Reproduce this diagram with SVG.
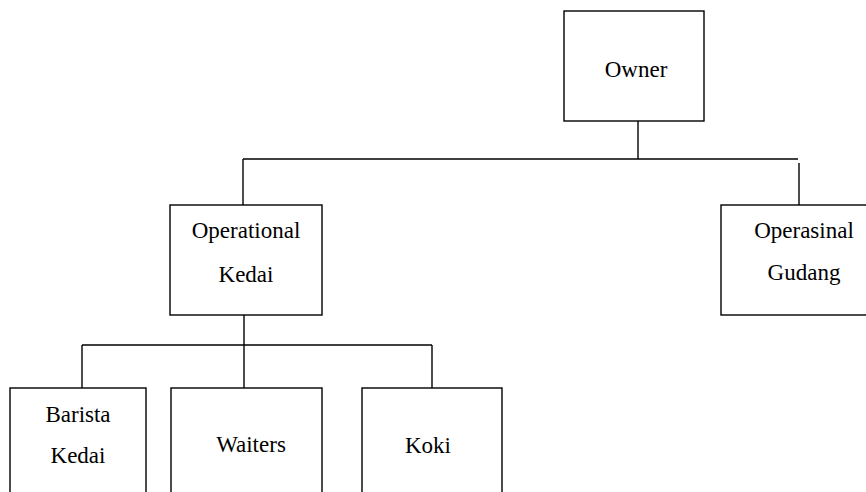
<svg xmlns="http://www.w3.org/2000/svg" width="866" height="492" viewBox="0 0 866 492">
<style>
.box{fill:#fff;stroke:#000;stroke-width:1.4}
.ln{fill:none;stroke:#000;stroke-width:1.4}
.t{font-family:'Times New Roman',Times,Tinos,'Liberation Serif','Noto Serif','DejaVu Serif',FreeSerif,serif;font-size:23px;fill:#000;text-anchor:middle}
</style>
<rect width="866" height="492" fill="#fff"/>
<g id="connectors">
<line class="ln" x1="638" y1="121" x2="638" y2="159"/>
<line class="ln" x1="243" y1="159" x2="798" y2="159"/>
<line class="ln" x1="243" y1="159" x2="243" y2="205"/>
<line class="ln" x1="799" y1="163" x2="799" y2="205"/>
<line class="ln" x1="244" y1="315" x2="244" y2="388"/>
<line class="ln" x1="82" y1="345" x2="432" y2="345"/>
<line class="ln" x1="82" y1="345" x2="82" y2="388"/>
<line class="ln" x1="432" y1="345" x2="432" y2="388"/>
</g>
<g id="owner">
<rect class="box" x="564" y="11" width="140" height="110"/>
<text class="t" x="636" y="77">Owner</text>
</g>
<g id="operational-kedai">
<rect class="box" x="170" y="205" width="152" height="110"/>
<text class="t" x="246" y="238">Operational</text>
<text class="t" x="246" y="282">Kedai</text>
</g>
<g id="operasinal-gudang">
<rect class="box" x="721" y="205" width="166" height="110"/>
<text class="t" x="804" y="238">Operasinal</text>
<text class="t" x="804" y="280">Gudang</text>
</g>
<g id="barista-kedai">
<rect class="box" x="10" y="388" width="136" height="120"/>
<text class="t" x="78" y="422">Barista</text>
<text class="t" x="78" y="463">Kedai</text>
</g>
<g id="waiters">
<rect class="box" x="171" y="388" width="151" height="120"/>
<text class="t" x="251" y="452">Waiters</text>
</g>
<g id="koki">
<rect class="box" x="362" y="388" width="140" height="120"/>
<text class="t" x="428" y="453">Koki</text>
</g>
</svg>
